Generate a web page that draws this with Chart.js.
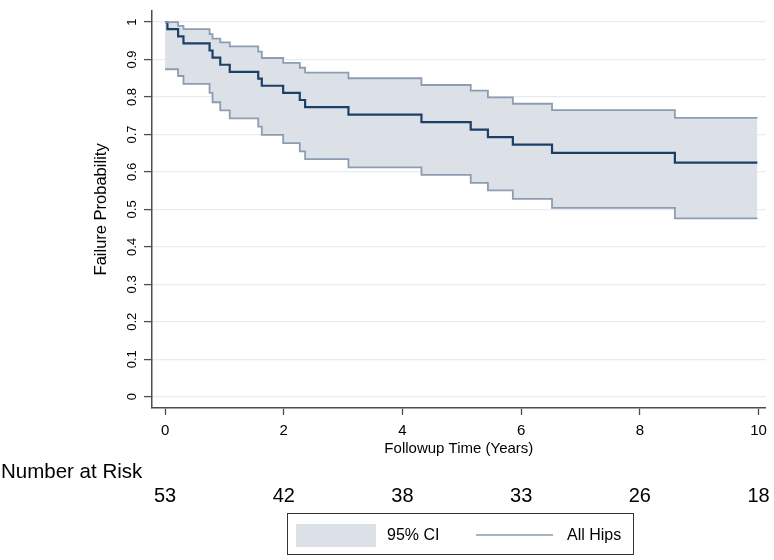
<!DOCTYPE html>
<html>
<head>
<meta charset="utf-8">
<title>Failure Probability - All Hips</title>
<script src="https://cdn.jsdelivr.net/npm/chart.js@4.4.1/dist/chart.umd.min.js"></script>
<style>
  html, body { margin: 0; padding: 0; background: #fff; }
  #wrap { position: relative; width: 774px; height: 560px; }
</style>
</head>
<body>
<div id="wrap"><canvas id="chart"></canvas></div>
<script>
// KM step points (years)
const times    = [0, 0.04, 0.22, 0.31, 0.75, 0.80, 0.93, 1.09, 1.57, 1.63, 1.99, 2.27, 2.36, 3.09, 4.32, 5.15, 5.44, 5.86, 6.52, 8.59, 9.98];
const estimate = [1, 0.981, 0.962, 0.943, 0.924, 0.905, 0.886, 0.867, 0.849, 0.830, 0.811, 0.792, 0.773, 0.753, 0.733, 0.713, 0.693, 0.673, 0.651, 0.625, 0.625];
const upperCI  = [1, 1, 0.990, 0.981, 0.968, 0.956, 0.946, 0.935, 0.921, 0.904, 0.891, 0.878, 0.865, 0.850, 0.832, 0.817, 0.799, 0.782, 0.765, 0.744, 0.744];
const lowerCI  = [0.874, 0.874, 0.856, 0.835, 0.811, 0.786, 0.764, 0.743, 0.721, 0.699, 0.677, 0.655, 0.634, 0.612, 0.592, 0.571, 0.551, 0.528, 0.504, 0.476, 0.476];

const xTicks = [0, 2, 4, 6, 8, 10];
const yTicks = [0, 0.1, 0.2, 0.3, 0.4, 0.5, 0.6, 0.7, 0.8, 0.9, 1];

// number at risk table
const riskTimes  = [0, 2, 4, 6, 8, 10];
const riskCounts = [53, 42, 38, 33, 26, 18];

const legendLabels = ['95% CI', 'All Hips'];

const FONT = "'Liberation Sans', Arial, Helvetica, sans-serif";
const ciFill = '#dce1e8', ciLine = '#8d9db1', kmLine = '#1c3f67', axisCol = '#4d4d4d';

const pts = ys => times.map((t, i) => ({x: t, y: ys[i]}));

const riskAndLegend = {
    id: 'riskAndLegend',
    afterDraw: (chart) => {
        const ctx = chart.ctx;
        const xs = chart.scales.x;
        ctx.save();
        ctx.fillStyle = '#000';
        ctx.font = `20.5px ${FONT}`;
        ctx.textAlign = 'left';
        ctx.textBaseline = 'alphabetic';
        ctx.fillText('Number at Risk', 1, 478);

        ctx.font = `20px ${FONT}`;
        ctx.textAlign = 'center';
        riskTimes.forEach((t, i) => {
            ctx.fillText(String(riskCounts[i]), xs.getPixelForValue(t), 502);
        });

        // legend box
        ctx.strokeStyle = '#333';
        ctx.lineWidth = 1;
        ctx.strokeRect(287.5, 513.5, 346, 41);
        ctx.fillStyle = ciFill;
        ctx.fillRect(296, 524, 80, 23);
        ctx.strokeStyle = ciLine;
        ctx.lineWidth = 1.5;
        ctx.beginPath();
        ctx.moveTo(476, 535);
        ctx.lineTo(553, 535);
        ctx.stroke();
        ctx.fillStyle = '#000';
        ctx.font = `16px ${FONT}`;
        ctx.textAlign = 'left';
        ctx.textBaseline = 'middle';
        ctx.fillText(legendLabels[0], 387, 536);
        ctx.fillText(legendLabels[1], 567, 536);
        ctx.restore();
    }
};

new Chart(document.getElementById('chart'), {
    type: 'line',
    data: {
        datasets: [
            {
                label: 'upper',
                data: pts(upperCI),
                borderColor: ciLine,
                borderWidth: 1.8,
                stepped: 'before',
                pointRadius: 0,
                fill: false
            },
            {
                label: legendLabels[0],
                data: pts(lowerCI),
                borderColor: ciLine,
                borderWidth: 1.8,
                backgroundColor: ciFill,
                stepped: 'before',
                pointRadius: 0,
                fill: '-1'
            },
            {
                label: legendLabels[1],
                data: pts(estimate),
                borderColor: kmLine,
                borderWidth: 2.2,
                stepped: 'before',
                pointRadius: 0,
                fill: false
            }
        ]
    },
    plugins: [riskAndLegend],
    options: {
        responsive: true,
        maintainAspectRatio: false,
        animation: false,
        layout: {
            padding: {left: 92, right: 8, top: 5, bottom: 102}
        },
        plugins: {
            legend: {display: false},
            tooltip: {enabled: false},
            filler: {drawTime: 'beforeDatasetsDraw'}
        },
        scales: {
            x: {
                type: 'linear',
                min: -0.22,
                max: 10.12,
                afterBuildTicks: s => { s.ticks = xTicks.map(v => ({value: v})); },
                afterFit: s => { s.height = 50; },
                grid: {drawOnChartArea: false, drawTicks: true, tickLength: 7, tickColor: axisCol, tickWidth: 1.3},
                border: {display: true, color: axisCol, width: 1.5},
                ticks: {
                    padding: 7,
                    color: '#000',
                    font: {family: FONT, size: 15},
                    callback: v => String(v)
                },
                title: {
                    display: true,
                    text: 'Followup Time (Years)',
                    color: '#000',
                    padding: 0,
                    font: {family: FONT, size: 15}
                }
            },
            y: {
                type: 'linear',
                min: -0.03,
                max: 1.03,
                afterBuildTicks: s => { s.ticks = yTicks.map(v => ({value: v})); },
                afterFit: s => { s.width = 60; },
                grid: {color: '#e6ecf0', lineWidth: 1.2, drawTicks: true, tickLength: 8, tickColor: axisCol, tickWidth: 1.3},
                border: {display: true, color: axisCol, width: 1.5},
                ticks: {
                    minRotation: 90,
                    maxRotation: 90,
                    crossAlign: 'center',
                    padding: 3,
                    color: '#000',
                    font: {family: FONT, size: 13},
                    callback: v => String(v)
                },
                title: {
                    display: true,
                    text: 'Failure Probability',
                    color: '#000',
                    padding: 0,
                    font: {family: FONT, size: 16.5}
                }
            }
        }
    }
});
</script>
</body>
</html>
